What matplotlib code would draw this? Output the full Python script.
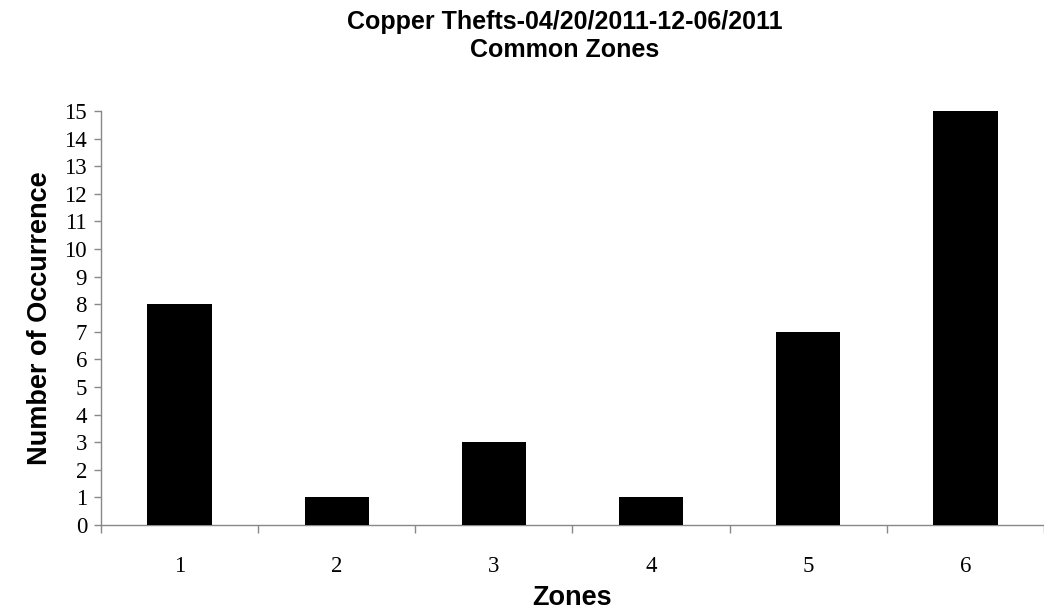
import matplotlib.pyplot as plt
import numpy as np

zones = ['1', '2', '3', '4', '5', '6']
occurrences = [8, 1, 3, 1, 7, 15]

fig = plt.figure(figsize=(10.44, 6.16), dpi=100)
ax = fig.add_axes([101 / 1044, 91 / 616, 943 / 1044, 414 / 616])

x = np.arange(1, len(zones) + 1)
ax.bar(x, occurrences, width=0.41, color='black', zorder=3)

ax.set_xlim(0.5, 0.5 + 943 / 158.8)
ax.set_ylim(0, 15)
ax.set_yticks(range(0, 16))

# category ticks sit between the bars, labels at the bar centres
ax.set_xticks(np.arange(0.5, 7.0, 1.0))
ax.set_xticklabels([])
ax.set_xticks(x, minor=True)
ax.set_xticklabels(zones, minor=True)
ax.tick_params(axis='x', which='minor', length=0, pad=22)
ax.tick_params(axis='x', which='major', length=6, color='#888888', width=1)
ax.tick_params(axis='y', length=5, color='#888888', width=1, pad=5)

for lab in ax.get_yticklabels() + ax.get_xticklabels(minor=True):
    lab.set_fontfamily('Liberation Serif')
    lab.set_fontsize(16.5)

for side in ['top', 'right']:
    ax.spines[side].set_visible(False)
for side in ['left', 'bottom']:
    ax.spines[side].set_color('#888888')
    ax.spines[side].set_linewidth(1)

ax.set_ylabel('Number of Occurrence', fontfamily='Liberation Sans',
              fontweight='bold', fontsize=19.5, labelpad=8)
ax.set_xlabel('Zones', fontfamily='Liberation Sans', fontweight='bold',
              fontsize=19.5, labelpad=6)
fig.text(565 / 1044, 1 - 36 / 616,
         'Copper Thefts-04/20/2011-12-06/2011\nCommon Zones',
         ha='center', va='center', fontfamily='Liberation Sans',
         fontweight='bold', fontsize=18, linespacing=1.2)

fig.savefig('out.png', dpi=100)
